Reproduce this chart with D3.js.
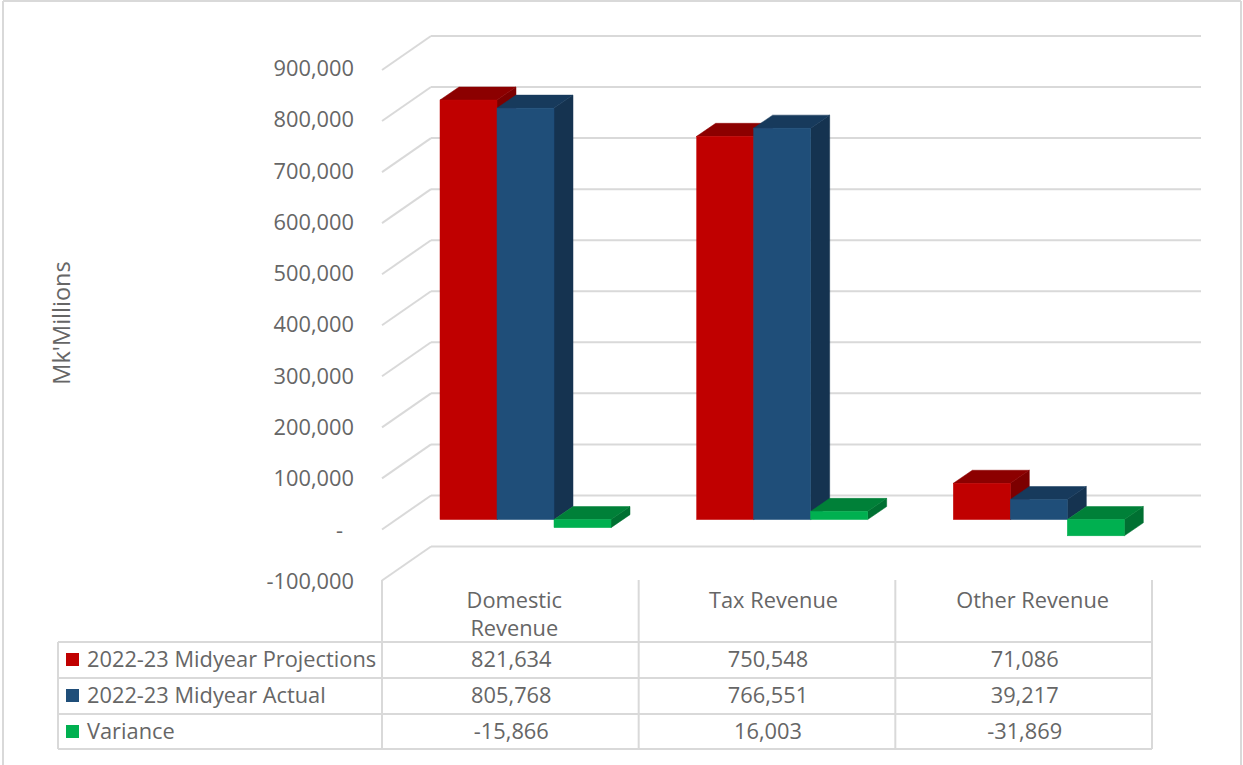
<!DOCTYPE html>
<html>
  <head>
    <meta charset="utf-8">
    <title>Revenue Midyear Chart</title>
    <script src="https://d3js.org/d3.v7.min.js"></script>
    <style>
      html, body { margin: 0; padding: 0; background: #fff; }
      svg { display: block; }
      text { font-family: "Open Sans", sans-serif; fill: #666; }
    </style>
  </head>
  <body>
    <svg width="1243" height="765"></svg>

    <script>
      // chart data
      var categories = [["Domestic", "Revenue"], ["Tax Revenue"], ["Other Revenue"]];
      var seriesNames = ["2022-23 Midyear Projections", "2022-23 Midyear Actual", "Variance"];
      var projections = [821634, 750548, 71086];
      var actual = [805768, 766551, 39217];
      var variance = [-15866, 16003, -31869];
      var seriesValues = [projections, actual, variance];
      var yTicks = [-100000, 0, 100000, 200000, 300000, 400000, 500000, 600000, 700000, 800000, 900000];

      // front, top, side
      var colors = [
        ["#c00000", "#8c0000", "#7c0000"],
        ["#1f4e79", "#173a5c", "#153350"],
        ["#00b050", "#008038", "#007032"]
      ];

      var svg = d3.select("svg");
      var lineColor = "#d9d9d9";
      var fontSize = 21.8;
      var fmt = d3.formatLocale({ decimal: ".", thousands: ",", grouping: [3], currency: ["", ""], minus: "-" }).format(",");

      // scales
      var yBack = d3.scaleLinear().domain([-100000, 900000]).range([546.5, 36]);
      var yFront = d3.scaleLinear().domain([-100000, 900000]).range([570.6, 60]);
      var yLabel = d3.scaleLinear().domain([-100000, 900000]).range([581.5, 68.5]);
      var xCat = d3.scaleBand().domain(d3.range(3)).range([382, 1152]);
      var wallDx = 49, wallDy = 34, barDx = 19, barDy = 13, barW = 57;

      function hline(x1, y1, x2, y2) {
        svg.append("line").attr("x1", x1).attr("y1", y1).attr("x2", x2).attr("y2", y2)
          .attr("stroke", lineColor).attr("stroke-width", 2);
      }

      // outer border
      hline(3, 1, 1241, 1);
      hline(3, 1, 3, 765);
      hline(1241, 1, 1241, 765);

      // gridlines on the wall and floor edge
      yTicks.forEach(function(t) {
        var y = yBack(t);
        hline(382, y + wallDy, 382 + wallDx, y);
        hline(382 + wallDx, y, 1201, y);
      });

      // y axis labels
      var axis = d3.axisLeft(yLabel).tickValues(yTicks).tickSize(0).tickPadding(0)
        .tickFormat(function(d) { return d === 0 ? "-" : fmt(d); });
      var axisG = svg.append("g").attr("transform", "translate(354,0)").call(axis);
      axisG.select(".domain").remove();
      axisG.selectAll("text").attr("font-size", fontSize).attr("font-family", null)
        .attr("dx", function(d) { return d === 0 ? -11 : 0; });

      svg.append("text").attr("transform", "translate(70,323) rotate(-90)")
        .attr("text-anchor", "middle").attr("font-size", 23.5).text("Mk'Millions");

      // 3d bars
      categories.forEach(function(c, i) {
        seriesValues.forEach(function(vals, s) {
          var x0 = xCat(i) + 58 + s * barW;
          var x1 = x0 + barW;
          var v = vals[i];
          var top = yFront(Math.max(v, 0));
          var bot = yFront(Math.min(v, 0));
          var col = colors[s];
          var g = svg.append("g");
          var pts = function(a) { return a.map(function(p) { return p.join(","); }).join(" "); };
          g.append("polygon").attr("fill", col[2]).attr("stroke", col[2]).attr("stroke-width", 0.5)
            .attr("points", pts([[x1, top], [x1 + barDx, top - barDy], [x1 + barDx, bot - barDy], [x1, bot]]));
          g.append("polygon").attr("fill", col[1]).attr("stroke", col[1]).attr("stroke-width", 0.5)
            .attr("points", pts([[x0, top], [x0 + barDx, top - barDy], [x1 + barDx, top - barDy], [x1, top]]));
          g.append("rect").attr("fill", col[0]).attr("stroke", col[0]).attr("stroke-width", 0.5)
            .attr("x", x0).attr("y", top).attr("width", barW).attr("height", bot - top);
        });
      });

      // data table
      var tableLeft = 58, tableTop = 580;
      var rowLines = [642, 678, 714, 749];
      var rowCenters = [659, 695, 731];
      rowLines.forEach(function(y) { hline(tableLeft, y, 1152, y); });
      hline(tableLeft, 642, tableLeft, 749);
      d3.range(4).forEach(function(i) {
        var x = 382 + i * xCat.step();
        hline(x, tableTop, x, 749);
      });

      // header labels sit a little right of the cell centre, more so further right
      categories.forEach(function(c, i) {
        var cx = xCat(i) + xCat.step() / 2 + 4 + i * 2.5;
        c.forEach(function(t, k) {
          svg.append("text").attr("x", cx).attr("y", 600 + k * 28).attr("dy", "0.35em")
            .attr("text-anchor", "middle").attr("font-size", fontSize).text(t);
        });
      });

      seriesNames.forEach(function(name, s) {
        var y = rowCenters[s];
        svg.append("rect").attr("x", 66).attr("y", y - 6).attr("width", 13).attr("height", 13).attr("fill", colors[s][0]);
        svg.append("text").attr("x", 87).attr("y", y).attr("dy", "0.35em").attr("font-size", fontSize).text(name);
        seriesValues[s].forEach(function(v, i) {
          svg.append("text").attr("x", xCat(i) + xCat.step() / 2 + 1).attr("y", y).attr("dy", "0.35em")
            .attr("text-anchor", "middle").attr("font-size", fontSize).text(fmt(v));
        });
      });
    </script>
  </body>
</html>
